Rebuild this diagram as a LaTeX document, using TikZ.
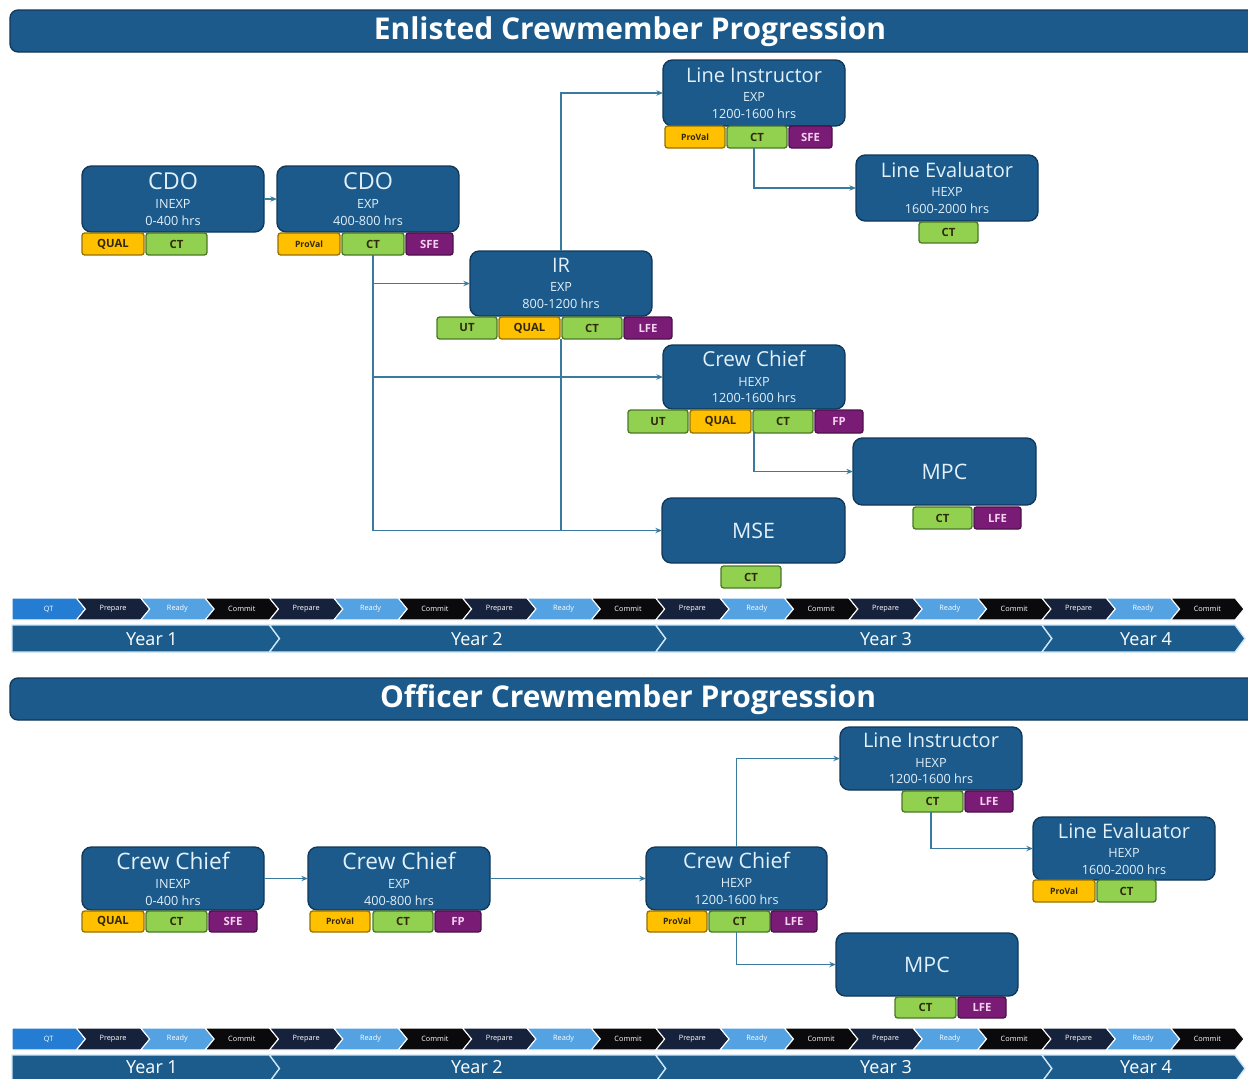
\documentclass[tikz,border=0pt]{standalone}
\usepackage{fontspec}
\setmainfont{Open Sans}
\usetikzlibrary{arrows.meta}
\definecolor{nodefill}{RGB}{27,90,138}
\definecolor{nodeedge}{RGB}{16,56,90}
\definecolor{nodetext}{RGB}{226,240,250}
\definecolor{tagyel}{RGB}{255,192,0}
\definecolor{tagyeledge}{RGB}{150,115,0}
\definecolor{taggrn}{RGB}{146,208,80}
\definecolor{taggrnedge}{RGB}{75,120,40}
\definecolor{tagpur}{RGB}{122,28,118}
\definecolor{tagpuredge}{RGB}{75,18,72}
\definecolor{tagdark}{RGB}{50,40,10}
\definecolor{tagpink}{RGB}{245,210,240}
\definecolor{connc}{RGB}{58,122,158}
\definecolor{qtc}{RGB}{36,125,210}
\definecolor{prc}{RGB}{22,34,60}
\definecolor{rdc}{RGB}{84,162,226}
\definecolor{cmc}{RGB}{10,10,12}
\definecolor{yearc}{RGB}{27,92,140}
\definecolor{yearedge}{RGB}{205,230,248}

\tikzset{
 crewbox/.style={draw=nodeedge, line width=1pt, fill=nodefill, rounded corners=7pt, text=nodetext, align=center, inner sep=0pt, outer sep=0pt, font=\fontsize{9.5}{12.5}\selectfont},
 tagbase/.style={line width=1pt, rounded corners=2pt, inner sep=0pt, outer sep=0pt, font=\bfseries\fontsize{8.5}{9}\selectfont},
 tagyellow/.style={tagbase, fill=tagyel, draw=tagyeledge, text=tagdark},
 taggreen/.style={tagbase, fill=taggrn, draw=taggrnedge, text=tagdark},
 tagpurple/.style={tagbase, fill=tagpur, draw=tagpuredge, text=tagpink},
 conn/.style={draw=connc, line width=1pt, -{Stealth[length=5pt,width=4pt]}},
 connplain/.style={draw=connc, line width=1pt},
 titlebar/.style={fill=nodefill, draw=nodeedge, line width=1pt, rounded corners=6pt},
 titletext/.style={text=white, font=\bfseries\fontsize{22.5}{26}\selectfont, inner sep=0pt},
 chevtext/.style={text=white, font=\fontsize{5.5}{6}\selectfont, inner sep=0pt},
 yeartext/.style={text=white, font=\fontsize{13.5}{16}\selectfont, inner sep=0pt},
}

\newcommand\crewbox[6]{%
 \pgfmathsetmacro\bxw{(#4-#2)*0.75}\pgfmathsetmacro\bxh{(#5-#3)*0.75}%
 \pgfmathsetmacro\bxx{(#2+#4)/2}\pgfmathsetmacro\bxy{(#3+#5)/2}%
 \node[crewbox, minimum width=\bxw pt, minimum height=\bxh pt] (#1) at (\bxx,\bxy) {#6};}
\newcommand\crewtag[7]{%
 \pgfmathsetmacro\tgw{(#5-#3)*0.75}\pgfmathsetmacro\tgh{(#6-#4)*0.75}%
 \pgfmathsetmacro\tgx{(#3+#5)/2}\pgfmathsetmacro\tgy{(#4+#6)/2}%
 \node[#2, minimum width=\tgw pt, minimum height=\tgh pt] (#1) at (\tgx,\tgy) {#7};}
\newcommand\ttl[2]{{\fontsize{#1}{#1}\selectfont #2}}
\newcommand\provalt{{\fontsize{6.5}{7}\selectfont ProVal}}

\newcommand\chevrow[3]{%
 \foreach \lab/\col [count=\i from 0] in {QT/qtc,Prepare/prc,Ready/rdc,Commit/cmc,Prepare/prc,Ready/rdc,Commit/cmc,Prepare/prc,Ready/rdc,Commit/cmc,Prepare/prc,Ready/rdc,Commit/cmc,Prepare/prc,Ready/rdc,Commit/cmc,Prepare/prc,Ready/rdc,Commit/cmc}{
  \pgfmathsetmacro\xa{12+\i*64.37}
  \pgfmathsetmacro\xb{\xa+64.37}
  \pgfmathsetmacro\ym{(#2+#3)/2}
  \ifnum\i=0 \def\notch{0}\else\def\notch{9}\fi
  \filldraw[fill=\col, draw=white, line width=0.8pt] (\xa,#2) -- (\xb,#2) -- (\xb+9,\ym) -- (\xb,#3) -- (\xa,#3) -- (\xa+\notch,\ym) -- cycle;
  \node[chevtext] (#1\i) at (\xa+36.7,\ym) {\lab};
 }}
\newcommand\yearrow[4]{%
 \pgfmathsetmacro\ym{(#2+#3)/2}
 \foreach \xa/\xb/\nt [count=\i] in {12/269.5/0,269.5/655.7/10,655.7/1041.9/10,1041.9/1235/10}{
  \filldraw[fill=yearc, draw=yearedge, line width=1pt] (\xa,#2) -- (\xb,#2) -- (\xb+10,\ym) -- (\xb,#3) -- (\xa,#3) -- (\xa+\nt,\ym) -- cycle;
 }
 \node[yeartext] (#1y1) at (152,#4) {Year 1};
 \node[yeartext] (#1y2) at (477,#4) {Year 2};
 \node[yeartext] (#1y3) at (886,#4) {Year 3};
 \node[yeartext] (#1y4) at (1146,#4) {Year 4};
}

\begin{document}
\begin{tikzpicture}[x=0.75pt,y=-0.75pt]
\useasboundingbox (0,0) rectangle (1248,1078);
\clip (0,0) rectangle (1248,1078);
\fill[white] (0,0) rectangle (1248,1078);

% ---------------- Enlisted ----------------
\draw[titlebar] (10,10) rectangle (1262,52);
\node[titletext] (title1) at (630,32) {Enlisted Crewmember Progression};

\crewbox{cdo1}{82}{166}{264}{232}{\ttl{17.5}{CDO}\\[2pt]INEXP\\0-400 hrs}
\crewtag{cdo1q}{tagyellow}{82}{233}{144}{255}{QUAL}
\crewtag{cdo1ct}{taggreen}{146}{233}{207}{255}{CT}

\crewbox{cdo2}{277}{166}{459}{232}{\ttl{17.5}{CDO}\\[2pt]EXP\\400-800 hrs}
\crewtag{cdo2pv}{tagyellow}{278}{233}{340}{255}{\provalt}
\crewtag{cdo2ct}{taggreen}{342}{233}{404}{255}{CT}
\crewtag{cdo2sfe}{tagpurple}{406}{233}{453}{255}{SFE}

\crewbox{li}{663}{60}{845}{126}{\ttl{15}{Line Instructor}\\[2pt]EXP\\1200-1600 hrs}
\crewtag{lipv}{tagyellow}{665}{126}{725}{148}{\provalt}
\crewtag{lict}{taggreen}{727}{126}{787}{148}{CT}
\crewtag{lisfe}{tagpurple}{789}{126}{832}{148}{SFE}

\crewbox{le}{856}{155}{1038}{221}{\ttl{15}{Line Evaluator}\\[2pt]HEXP\\1600-2000 hrs}
\crewtag{lect}{taggreen}{919}{222}{978}{243}{CT}

\crewbox{ir}{470}{251}{652}{316}{\ttl{15}{IR}\\[2pt]EXP\\800-1200 hrs}
\crewtag{irut}{taggreen}{437}{317}{497}{339}{UT}
\crewtag{irqual}{tagyellow}{499}{317}{560}{339}{QUAL}
\crewtag{irct}{taggreen}{562}{317}{622}{339}{CT}
\crewtag{irlfe}{tagpurple}{624}{317}{672}{339}{LFE}

\crewbox{cc}{663}{345}{845}{409}{\ttl{15.5}{Crew Chief}\\[2pt]HEXP\\1200-1600 hrs}
\crewtag{ccut}{taggreen}{628}{410}{688}{433}{UT}
\crewtag{ccqual}{tagyellow}{690}{410}{751}{433}{QUAL}
\crewtag{ccct}{taggreen}{753}{410}{813}{433}{CT}
\crewtag{ccfp}{tagpurple}{815}{410}{863}{433}{FP}

\crewbox{mpc}{853}{438}{1036}{505}{\ttl{16}{MPC}}
\crewtag{mpcct}{taggreen}{913}{507}{972}{529}{CT}
\crewtag{mpclfe}{tagpurple}{974}{507}{1021}{529}{LFE}

\crewbox{mse}{662}{498}{845}{563}{\ttl{16}{MSE}}
\crewtag{msect}{taggreen}{721}{566}{781}{588}{CT}

\draw[conn] (cdo1) -- (cdo2);
\draw[conn] (cdo2ct.south) |- (mse.west);
\draw[conn] (cdo2ct.south |- ir.west) -- (ir.west);
\draw[conn] (cdo2ct.south |- cc.west) -- (cc.west);
\draw[conn] (ir.north) |- (li.west);
\draw[connplain] (ir.south |- irqual.south) -- (ir.south |- mse.west);
\draw[conn] (li.south |- lict.south) |- (le.west);
\draw[conn] (cc.south |- ccct.south) |- (mpc.west);

\chevrow{ec}{598}{620}
\yearrow{ey}{625}{652}{639}

% ---------------- Officer ----------------
\draw[titlebar] (10,678) rectangle (1262,720);
\node[titletext] (title2) at (628,700) {Officer Crewmember Progression};

\crewbox{occ1}{82}{847}{264}{910}{\ttl{17}{Crew Chief}\\[2pt]INEXP\\0-400 hrs}
\crewtag{occ1q}{tagyellow}{82}{911}{144}{932}{QUAL}
\crewtag{occ1ct}{taggreen}{146}{911}{207}{932}{CT}
\crewtag{occ1sfe}{tagpurple}{209}{911}{257}{932}{SFE}

\crewbox{occ2}{308}{847}{490}{910}{\ttl{17}{Crew Chief}\\[2pt]EXP\\400-800 hrs}
\crewtag{occ2pv}{tagyellow}{310}{911}{370}{932}{\provalt}
\crewtag{occ2ct}{taggreen}{373}{911}{433}{932}{CT}
\crewtag{occ2fp}{tagpurple}{435}{911}{481}{932}{FP}

\crewbox{occ3}{646}{847}{827}{910}{\ttl{16}{Crew Chief}\\[2pt]HEXP\\1200-1600 hrs}
\crewtag{occ3pv}{tagyellow}{647}{911}{707}{932}{\provalt}
\crewtag{occ3ct}{taggreen}{709}{911}{770}{932}{CT}
\crewtag{occ3lfe}{tagpurple}{771}{911}{817}{932}{LFE}

\crewbox{oli}{840}{727}{1022}{790}{\ttl{15}{Line Instructor}\\[2pt]HEXP\\1200-1600 hrs}
\crewtag{olict}{taggreen}{902}{791}{963}{812}{CT}
\crewtag{olilfe}{tagpurple}{965}{791}{1013}{812}{LFE}

\crewbox{ole}{1033}{817}{1215}{880}{\ttl{15}{Line Evaluator}\\[2pt]HEXP\\1600-2000 hrs}
\crewtag{olepv}{tagyellow}{1033}{880}{1095}{902}{\provalt}
\crewtag{olect}{taggreen}{1097}{880}{1156}{902}{CT}

\crewbox{ompc}{836}{933}{1018}{996}{\ttl{16}{MPC}}
\crewtag{ompcct}{taggreen}{895}{997}{956}{1018}{CT}
\crewtag{ompclfe}{tagpurple}{958}{997}{1006}{1018}{LFE}

\draw[conn] (occ1) -- (occ2);
\draw[conn] (occ2) -- (occ3);
\draw[conn] (occ3.north) |- (oli.west);
\draw[conn] (oli.south |- olict.south) |- (ole.west);
\draw[conn] (occ3.south |- occ3ct.south) |- (ompc.west);

\chevrow{oc}{1028}{1050}
\yearrow{oy}{1055}{1082}{1067}
\end{tikzpicture}
\end{document}
